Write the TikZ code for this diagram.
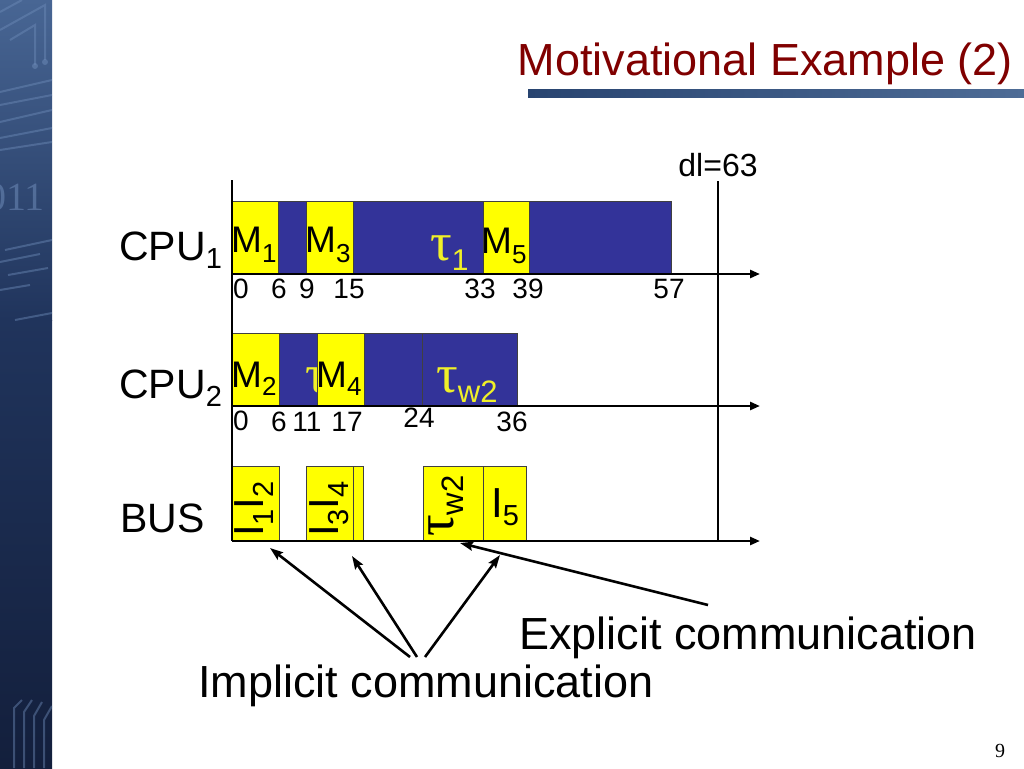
\documentclass[tikz,border=0pt]{standalone}
\usepackage{fontspec}
\setmainfont{Liberation Sans}
\newfontfamily\serifgr{Liberation Serif}
\usetikzlibrary{arrows.meta}
\definecolor{ybox}{RGB}{255,255,0}
\definecolor{bbox}{RGB}{51,51,153}
\definecolor{tred}{RGB}{128,0,0}
\definecolor{tauy}{RGB}{240,240,40}
\definecolor{navy1}{RGB}{19,31,60}
\definecolor{navy2}{RGB}{32,52,92}
\definecolor{navy3}{RGB}{72,102,148}
\definecolor{decoc}{RGB}{110,140,185}
\definecolor{barl}{RGB}{40,68,112}
\definecolor{barr}{RGB}{78,108,150}
\newcommand\fs[1]{\fontsize{#1}{#1}\selectfont}
\newcommand\lsub[3]{\raisebox{-#1pt}{\fs{#2}#3}}
\begin{document}
\begin{tikzpicture}[x=1pt,y=-1pt,
  yb/.style={fill=ybox,draw=black!75,line width=0.8pt},
  bb/.style={fill=bbox,draw=black!75,line width=0.8pt},
  axisline/.style={line width=2.6pt},
  axisarrow/.style={line width=2.6pt,-{Triangle[length=10pt,width=8pt]}},
  lbl/.style={inner sep=0pt,anchor=base west},
  tk/.style={inner sep=0pt,anchor=base,font=\fs{28}},
  ptr/.style={line width=2.6pt,-{Stealth[length=13pt,width=9pt,inset=2pt]}},
  rot/.style={inner sep=0pt,anchor=base west,rotate=90},
  deco/.style={draw=decoc,line width=2pt,opacity=0.45}
]
\useasboundingbox (0,0) rectangle (1024,768);
\fill[white] (0,0) rectangle (1024,768);

% left decorative strip
\shade[top color=navy3,bottom color=navy2] (0,0) rectangle (52,320);
\shade[top color=navy2,bottom color=navy1] (0,320) rectangle (52,768);
\begin{scope}
  \clip (0,0) rectangle (52,768);
  \draw[deco] (0,12) -- (22,0);
  \draw[deco] (0,30) -- (45,5) -- (45,60);
  \draw[deco] (10,40) -- (35,25) -- (35,65);
  \fill[decoc,opacity=0.5] (35,66) circle (3) (45,62) circle (3);
  \draw[deco] (0,92) -- (52,80);
  \draw[deco] (0,105) -- (52,95);
  \draw[deco] (0,122) -- (52,110);
  \draw[deco] (0,138) -- (52,128);
  \draw[deco] (0,150) -- (52,142);
  \node[text=decoc,opacity=0.55,font=\serifgr\fs{40},inner sep=0pt,anchor=base west] (bgdigits) at (-14,210) {011};
  \draw[deco] (5,250) -- (52,240);
  \draw[deco] (0,262) -- (40,254);
  \draw[deco] (8,275) -- (48,268);
  \draw[deco] (0,290) -- (30,285);
  \draw[deco] (15,320) -- (52,313);
  \draw[deco] (14,768) -- (14,708) -- (22,700);
  \draw[deco] (24,768) -- (24,712) -- (32,700);
  \draw[deco] (34,768) -- (34,716) -- (42,702);
  \draw[deco] (44,768) -- (44,720) -- (52,706);
\end{scope}

% title
\node[text=tred,font=\fs{45},inner sep=0pt,anchor=base east] (title) at (1013,75) {Motivational Example (2)};
\shade[left color=barl,right color=barr] (528,89) rectangle (1024,97);

% row labels
\node[lbl,font=\fs{41}] (cpu1) at (119,260) {CPU\lsub{8}{29}{1}};
\node[lbl,font=\fs{41}] (cpu2) at (119,398) {CPU\lsub{8}{29}{2}};
\node[lbl,font=\fs{41}] (bus) at (120,532) {BUS};

% CPU1 schedule
\filldraw[yb] (232,201) rectangle (278,274);
\filldraw[bb] (278,201) rectangle (306,274);
\filldraw[yb] (306,201) rectangle (353,274);
\filldraw[bb] (353,201) rectangle (483,274);
\filldraw[yb] (483,201) rectangle (529,274);
\filldraw[bb] (529,201) rectangle (671,274);
\node[lbl,font=\fs{37}] (m1) at (231,252) {M\lsub{10}{26}{1}};
\node[lbl,font=\fs{37}] (m3) at (305,252) {M\lsub{10}{26}{3}};
\node[lbl,font=\fs{37}] (m5) at (481,253) {M\lsub{10}{26}{5}};
\node[lbl,text=tauy] (t1) at (430,260) {{\serifgr\fs{54}τ}\lsub{10}{30}{1}};

% CPU2 schedule
\filldraw[yb] (232,333) rectangle (279,406);
\filldraw[bb] (279,333) rectangle (317,406);
\node[lbl,text=tauy] (t3) at (305,392) {{\serifgr\fs{54}τ}};
\filldraw[yb] (317,333) rectangle (364,406);
\filldraw[bb] (364,333) rectangle (422,406);
\filldraw[bb] (422,333) rectangle (517,406);
\node[lbl,font=\fs{37}] (m2) at (231,387) {M\lsub{8}{26}{2}};
\node[lbl,font=\fs{37}] (m4) at (316,387) {M\lsub{8}{26}{4}};
\node[lbl,text=tauy] (tw2) at (436,392) {{\serifgr\fs{54}τ}\lsub{10}{31}{w2}};

% BUS schedule
\filldraw[yb] (232,466) rectangle (279,541);
\filldraw[yb] (306,466) rectangle (353,541);
\filldraw[yb] (353,466) rectangle (363,541);
\filldraw[yb] (423,466) rectangle (483,541);
\filldraw[yb] (483,466) rectangle (526,541);
\node[rot,font=\fs{42}] (i12) at (263,537) {I\lsub{10}{29}{1}I\lsub{10}{29}{2}};
\node[rot,font=\fs{42}] (i34) at (338,537) {I\lsub{10}{29}{3}I\lsub{10}{29}{4}};
\node[rot] (bw2) at (453,537) {{\serifgr\fs{54}τ}\lsub{10}{31}{w2}};
\node[lbl,font=\fs{42}] (i5) at (491,517) {I\lsub{8}{29}{5}};

% axes
\coordinate (vtop) at (232,180);
\coordinate (vbot) at (232,541);
\coordinate (ax1s) at (232,274);
\coordinate (ax1e) at (760,274);
\coordinate (ax2s) at (232,406);
\coordinate (ax2e) at (760,406);
\coordinate (ax3s) at (232,541);
\coordinate (ax3e) at (760,541);
\draw[axisline] (vtop) -- (vbot);
\draw[axisarrow] (ax1s) -- (ax1e);
\draw[axisarrow] (ax2s) -- (ax2e);
\draw[axisarrow] (ax3s) -- (ax3e);

% deadline
\node[font=\fs{32},inner sep=0pt,anchor=base] (dl) at (718,176) {dl=63};
\coordinate (dltop) at (718,181);
\coordinate (dlbot) at (718,541);
\draw[axisline] (dltop) -- (dlbot);

% ticks CPU1
\node[tk] (c1t0) at (241,298) {0};
\node[tk] (c1t6) at (279,298) {6};
\node[tk] (c1t9) at (307,298) {9};
\node[tk] (c1t15) at (349,298) {15};
\node[tk] (c1t33) at (480,298) {33};
\node[tk] (c1t39) at (528,298) {39};
\node[tk] (c1t57) at (669,298) {57};
% ticks CPU2
\node[tk] (c2t0) at (241,430) {0};
\node[tk] (c2t6) at (279,431) {6};
\node[tk] (c2t11) at (307,431) {11};
\node[tk] (c2t17) at (347,431) {17};
\node[tk] (c2t24) at (419,427) {24};
\node[tk] (c2t36) at (512,431) {36};

% communication labels and pointers
\node[font=\fs{45},inner sep=0pt,anchor=base] (exp) at (748,649) {Explicit communication};
\node[font=\fs{45},inner sep=0pt,anchor=base] (imp) at (426,697) {Implicit communication};
\coordinate (impA) at (410,657);
\coordinate (impB) at (417,657);
\coordinate (impC) at (425,657);
\coordinate (tgA) at (270,548);
\coordinate (tgB) at (352,556);
\coordinate (tgC) at (500,555);
\coordinate (expA) at (708,605);
\coordinate (tgE) at (460,543);
\draw[ptr] (impA) -- (tgA);
\draw[ptr] (impB) -- (tgB);
\draw[ptr] (impC) -- (tgC);
\draw[ptr] (expA) -- (tgE);

% page number
\node[font=\serifgr\fs{20},inner sep=0pt,anchor=base] (pg) at (1000,757) {9};
\end{tikzpicture}
\end{document}
